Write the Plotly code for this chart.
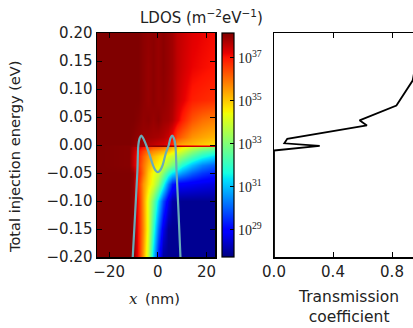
import plotly.graph_objects as go

# ---------------- data ----------------
# LDOS map (log10 of LDOS in m^-2 eV^-1)
x_nm = [-25, -12, -10, -8, -6, -4, -2, 0, 2, 4, 6, 8, 10, 14, 18, 23.5]
energy_ev = [-0.2, -0.15, -0.1, -0.07, -0.05, -0.035, -0.02, -0.01, -0.004,
             -0.0015, 0.002, 0.015, 0.045, 0.08, 0.14, 0.2]
log_ldos = [
    [38.16, 38.16, 38.1, 37.0, 35.5, 33.8, 31.2, 29.3, 28.0, 27.9, 27.9, 27.9, 27.9, 27.9, 27.9, 27.9],
    [38.16, 38.16, 38.1, 37.0, 35.7, 34.2, 32.0, 30.2, 28.7, 27.95, 27.9, 27.9, 27.9, 27.9, 27.9, 27.9],
    [38.16, 38.16, 38.0, 37.0, 35.6, 34.2, 32.8, 31.3, 29.8, 28.7, 28.1, 27.95, 27.9, 27.9, 27.9, 27.9],
    [38.16, 38.16, 38.0, 36.8, 35.6, 34.8, 34.2, 33.2, 31.8, 30.3, 29.3, 28.9, 28.9, 28.8, 28.7, 28.6],
    [38.16, 38.16, 38.0, 37.0, 36.0, 35.0, 34.4, 34.0, 33.0, 32.0, 31.4, 31.0, 30.6, 30.0, 29.6, 29.3],
    [38.16, 38.1, 37.6, 36.8, 36.0, 35.3, 34.8, 34.5, 34.0, 33.4, 32.9, 32.5, 31.8, 31.0, 30.4, 30.0],
    [38.16, 38.1, 37.6, 36.9, 36.2, 35.6, 35.2, 34.9, 34.6, 34.2, 33.9, 33.6, 33.2, 32.4, 31.8, 31.3],
    [38.16, 38.1, 37.7, 37.1, 36.5, 36.0, 35.7, 35.5, 35.3, 35.0, 34.7, 34.4, 34.0, 33.2, 32.6, 32.2],
    [38.16, 38.1, 37.8, 37.4, 37.0, 36.6, 36.3, 36.2, 36.0, 35.7, 35.3, 35.0, 34.6, 34.0, 33.5, 33.0],
    [38.16, 38.1, 37.95, 37.8, 37.8, 37.9, 38.05, 38.1, 38.1, 38.0, 37.9, 37.7, 37.6, 37.5, 37.4, 37.4],
    [38.16, 38.16, 38.05, 37.9, 37.8, 37.7, 37.6, 37.5, 37.4, 37.2, 36.7, 35.6, 35.4, 35.2, 35.0, 34.8],
    [38.16, 38.16, 38.1, 38.0, 37.95, 37.9, 37.85, 37.8, 37.7, 37.5, 37.1, 36.4, 36.1, 35.6, 35.4, 35.2],
    [38.16, 38.16, 38.16, 38.1, 38.0, 38.05, 37.95, 38.05, 37.9, 37.85, 37.7, 37.3, 36.9, 36.3, 36.0, 35.8],
    [38.16, 38.16, 38.16, 38.16, 38.05, 37.95, 38.05, 37.95, 38.0, 37.9, 37.8, 37.5, 37.3, 36.9, 36.8, 36.7],
    [38.16, 38.16, 38.16, 38.16, 38.05, 37.95, 38.05, 37.95, 38.05, 37.95, 37.85, 37.6, 37.45, 37.2, 37.1, 37.0],
    [38.16, 38.16, 38.16, 38.16, 38.05, 38.0, 38.05, 37.95, 38.05, 37.95, 37.85, 37.6, 37.5, 37.3, 37.2, 37.1],
]

# potential profile (double barrier), cyan line
pot_x = [-10.3, -9.3, -8.4, -8.0, -7.5, -6.8, -6.0, -4.8, -3.5, -2.0, -1.0, 0.0,
         1.0, 2.0, 3.2, 4.5, 5.2, 5.9, 6.6, 7.2, 7.7, 8.5, 9.3]
pot_e = [-0.2, -0.12, -0.047, 0.0, 0.012, 0.017, 0.012, 0.0, -0.016, -0.036, -0.045, -0.0485,
         -0.045, -0.036, -0.016, 0.0, 0.012, 0.017, 0.012, 0.0, -0.047, -0.12, -0.2]

# transmission coefficient vs energy
trans_t = [0.0, 0.0, 0.31, 0.07, 0.09, 0.57, 0.63, 0.58, 0.83, 0.94, 1.0]
trans_e = [-0.2, -0.0098, -0.0015, 0.003, 0.011, 0.033, 0.035, 0.044, 0.0705, 0.115, 0.2]

cbar_vals = [29, 31, 33, 35, 37]
cbar_text = ["10<sup>%d</sup>" % v for v in cbar_vals]

# ---------------- figure ----------------
W, H = 413, 328
def fx(px):
    return px / W
def fy(py):
    return 1 - py / H

jet = [[0, "rgb(0,0,128)"], [0.11, "rgb(0,0,255)"], [0.125, "rgb(0,0,255)"],
       [0.34, "rgb(0,219,255)"], [0.35, "rgb(0,230,247)"], [0.375, "rgb(21,255,226)"],
       [0.64, "rgb(239,255,8)"], [0.65, "rgb(247,245,0)"], [0.66, "rgb(255,236,0)"],
       [0.89, "rgb(255,19,0)"], [0.91, "rgb(232,0,0)"], [1, "rgb(128,0,0)"]]

font_sans = "DejaVu Sans"
font_serif = "Liberation Serif"

fig = go.Figure()
fig.add_trace(go.Heatmap(
    x=x_nm, y=energy_ev, z=log_ldos, zsmooth="best", colorscale=jet,
    zmin=27.74, zmax=38.16, xaxis="x", yaxis="y",
    colorbar=dict(
        x=fx(222), xanchor="left", xref="paper", thickness=12, thicknessmode="pixels",
        len=(257 - 33) / H, lenmode="fraction", y=fy(257), yanchor="bottom",
        outlinewidth=1.2, outlinecolor="black",
        tickvals=cbar_vals, ticktext=cbar_text, ticks="inside", ticklen=4,
        tickcolor="black", tickwidth=1,
        tickfont=dict(family=font_serif, size=14, color="#222"),
        ypad=0, xpad=0,
    ),
))
fig.add_trace(go.Scatter(
    x=pot_x, y=pot_e, mode="lines", line=dict(color="rgb(104,172,184)", width=2.2, shape="spline"),
    xaxis="x", yaxis="y", showlegend=False, hoverinfo="skip"))
fig.add_trace(go.Scatter(
    x=trans_t, y=trans_e, mode="lines", line=dict(color="black", width=1.8),
    xaxis="x2", yaxis="y2", showlegend=False, cliponaxis=True, hoverinfo="skip"))

axis_common = dict(showline=True, linecolor="black", linewidth=1.5, ticks="inside",
                   tickcolor="black", ticklen=5, tickwidth=1, showgrid=False, zeroline=False,
                   tickfont=dict(family=font_sans, size=15, color="#222"))

fig.update_layout(
    width=W, height=H, margin=dict(l=0, r=0, t=0, b=0, autoexpand=False),
    paper_bgcolor="white", plot_bgcolor="white", showlegend=False,
    xaxis=dict(domain=[fx(97), fx(215)], range=[-25, 23.5], tickvals=[-20, 0, 20],
               mirror="ticks", anchor="y", **axis_common),
    yaxis=dict(domain=[fy(257), fy(33)], range=[-0.2, 0.2],
               tickvals=[-0.2, -0.15, -0.1, -0.05, 0.0, 0.05, 0.1, 0.15, 0.2],
               tickformat=".2f", mirror="ticks", anchor="x", **axis_common),
    xaxis2=dict(domain=[fx(274), 1.0], range=[0, (413 - 274) / 147.5],
                tickvals=[0.0, 0.4, 0.8], tickformat=".1f", mirror="ticks", anchor="y2",
                **axis_common),
    yaxis2=dict(domain=[fy(257), fy(33)], range=[-0.2, 0.2], anchor="x2",
                showline=True, linecolor="black", linewidth=1.5, ticks="",
                showticklabels=False, showgrid=False, zeroline=False),
)

fig.add_annotation(text="LDOS (m<sup>−2</sup>eV<sup>−1</sup>)", x=fx(201), y=fy(17),
                   xref="paper", yref="paper", showarrow=False,
                   font=dict(family=font_sans, size=15, color="#222"),
                   xanchor="center", yanchor="middle")
fig.add_annotation(text="Total injection energy (eV)", x=fx(14), y=fy(157),
                   xref="paper", yref="paper", showarrow=False,
                   font=dict(family=font_sans, size=14.6, color="#222"),
                   textangle=-90, xanchor="center", yanchor="middle")
fig.add_annotation(text="<i>x</i>", x=fx(133), y=fy(299), xref="paper", yref="paper",
                   showarrow=False, font=dict(family="DejaVu Serif", size=15, color="#222"),
                   xanchor="center", yanchor="middle")
fig.add_annotation(text="(nm)", x=fx(162), y=fy(298), xref="paper", yref="paper",
                   showarrow=False, font=dict(family=font_sans, size=14.6, color="#222"),
                   xanchor="center", yanchor="middle")
fig.add_annotation(text="Transmission<br>coefficient", x=fx(348), y=fy(307),
                   xref="paper", yref="paper", showarrow=False,
                   font=dict(family=font_sans, size=15.5, color="#222"),
                   xanchor="center", yanchor="middle")

fig.write_html("out.html", config={"displayModeBar": False, "staticPlot": True},
               post_script="document.body.style.margin='0px';document.body.style.overflow='hidden';")
